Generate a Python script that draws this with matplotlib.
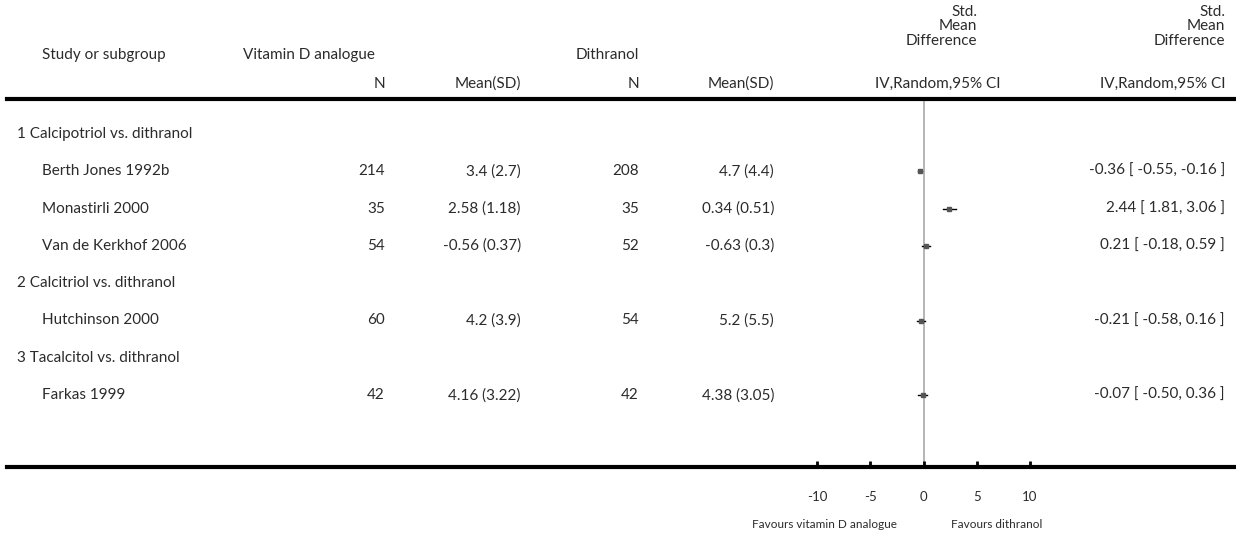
import matplotlib
matplotlib.use('Agg')
import matplotlib.pyplot as plt
import matplotlib.transforms as mtransforms

plt.rcParams['font.family'] = ['Lato', 'DejaVu Sans']
plt.rcParams['font.size'] = 11

# rows of the forest plot (subgroup headers have no numbers)
labels = ['1 Calcipotriol vs. dithranol', 'Berth Jones 1992b', 'Monastirli 2000',
          'Van de Kerkhof 2006', '2 Calcitriol vs. dithranol', 'Hutchinson 2000',
          '3 Tacalcitol vs. dithranol', 'Farkas 1999']
is_group = [True, False, False, False, True, False, True, False]
n_vit = ['', '214', '35', '54', '', '60', '', '42']
mean_vit = ['', '3.4 (2.7)', '2.58 (1.18)', '-0.56 (0.37)', '', '4.2 (3.9)', '', '4.16 (3.22)']
n_dit = ['', '208', '35', '52', '', '54', '', '42']
mean_dit = ['', '4.7 (4.4)', '0.34 (0.51)', '-0.63 (0.3)', '', '5.2 (5.5)', '', '4.38 (3.05)']
smd = [None, -0.36, 2.44, 0.21, None, -0.21, None, -0.07]
ci_lo = [None, -0.55, 1.81, -0.18, None, -0.58, None, -0.50]
ci_hi = [None, -0.16, 3.06, 0.59, None, 0.16, None, 0.36]
ci_text = ['', '-0.36 [ -0.55, -0.16 ]', '2.44 [ 1.81, 3.06 ]', '0.21 [ -0.18, 0.59 ]',
           '', '-0.21 [ -0.58, 0.16 ]', '', '-0.07 [ -0.50, 0.36 ]']
xticks = [-10, -5, 0, 5, 10]

W, H = 1236, 538
fig = plt.figure(figsize=(W / 100, H / 100), dpi=100)
txt = '#2b2b2b'

def fx(px):
    return px / W

def fy(py):
    return 1 - py / H

# axes spans the full table width; top/bottom spines are the thick rules
left_px, right_px, top_px, bot_px = 7, 1236, 99, 467
ax = fig.add_axes([fx(left_px), fy(bot_px), fx(right_px - left_px), (bot_px - top_px) / H])
zero_px, unit_px = 923.5, 10.65
ax.set_xlim((left_px - zero_px) / unit_px, (right_px - zero_px) / unit_px)
row0_px, row_step = 134, 37.3
ax.set_ylim((bot_px - row0_px) / row_step, (top_px - row0_px) / row_step)

for s in ['left', 'right']:
    ax.spines[s].set_visible(False)
for s in ['top', 'bottom']:
    ax.spines[s].set_linewidth(3)
    ax.spines[s].set_color('black')
ax.set_yticks([])
ax.set_xticks(xticks)
ax.set_xticklabels([str(t) for t in xticks], color=txt, fontsize=9.5)
ax.tick_params(axis='x', direction='in', length=4.5, width=2, pad=17, colors='black',
               labelcolor=txt)

ax.axvline(0, color='#b0b0b0', lw=1.3, zorder=1)

for i in range(len(labels)):
    if smd[i] is None:
        continue
    ax.plot([ci_lo[i], ci_hi[i]], [i, i], color='black', lw=1, zorder=3)
    ax.plot(smd[i], i, marker='s', ms=2.5, color='#555555', zorder=4)

# table text: x in figure pixels, y in row units
tr = mtransforms.blended_transform_factory(fig.transFigure, ax.transData)
for i in range(len(labels)):
    ax.text(fx(17 if is_group[i] else 42), i, labels[i], transform=tr, ha='left', va='center', color=txt)
    ax.text(fx(385), i, n_vit[i], transform=tr, ha='right', va='center', color=txt)
    ax.text(fx(521), i, mean_vit[i], transform=tr, ha='right', va='center', color=txt)
    ax.text(fx(639), i, n_dit[i], transform=tr, ha='right', va='center', color=txt)
    ax.text(fx(774), i, mean_dit[i], transform=tr, ha='right', va='center', color=txt)
    ax.text(fx(1225), i, ci_text[i], transform=tr, ha='right', va='center', color=txt)

# header
fig.text(fx(42), fy(55), 'Study or subgroup', ha='left', va='center', color=txt)
fig.text(fx(243), fy(55), 'Vitamin D analogue', ha='left', va='center', color=txt)
fig.text(fx(639), fy(55), 'Dithranol', ha='right', va='center', color=txt)
fig.text(fx(385), fy(84), 'N', ha='right', va='center', color=txt)
fig.text(fx(521), fy(84), 'Mean(SD)', ha='right', va='center', color=txt)
fig.text(fx(639), fy(84), 'N', ha='right', va='center', color=txt)
fig.text(fx(774), fy(84), 'Mean(SD)', ha='right', va='center', color=txt)
for xr in [977, 1225]:
    for line, py in zip(['Std.', 'Mean', 'Difference'], [12, 26, 41]):
        fig.text(fx(xr), fy(py), line, ha='right', va='center', color=txt)
fig.text(fx(1000), fy(84), 'IV,Random,95% CI', ha='right', va='center', color=txt)
fig.text(fx(1225), fy(84), 'IV,Random,95% CI', ha='right', va='center', color=txt)

# favours labels
fig.text(fx(897), fy(524), 'Favours vitamin D analogue', ha='right', va='center', color=txt, fontsize=8.5)
fig.text(fx(951), fy(524), 'Favours dithranol', ha='left', va='center', color=txt, fontsize=8.5)

fig.savefig('out.png', dpi=100)
